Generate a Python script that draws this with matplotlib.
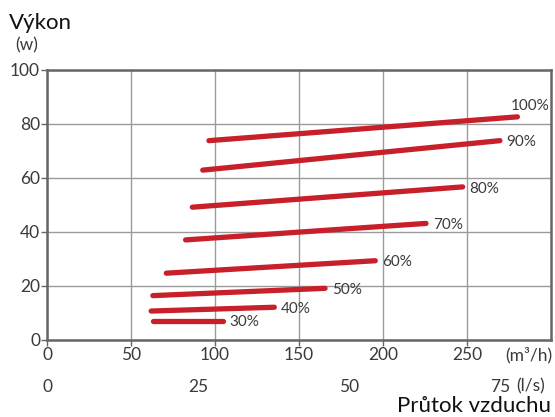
import matplotlib.pyplot as plt

plt.rcParams['font.family'] = ['Lato', 'DejaVu Sans']

# fan speed curves: airflow (m3/h) vs power (W), start and end points
speeds = ['30%', '40%', '50%', '60%', '70%', '80%', '90%', '100%']
flow_start = [63, 62, 63, 71, 82.5, 86.5, 92.7, 96.4]
flow_end = [104.6, 135.3, 165.5, 195.4, 225.6, 247.4, 269.6, 280]
power_start = [7.1, 10.7, 16.4, 24.7, 37, 49.1, 62.8, 73.7]
power_end = [7.1, 12.1, 19.1, 29.3, 43.1, 56.6, 73.7, 82.5]

x_ticks = [0, 50, 100, 150, 200, 250]
y_ticks = [0, 20, 40, 60, 80, 100]
ls_ticks = [0, 25, 50, 75]

RED = '#c8202a'
TXT = '#3a3a3a'
GRID = '#9a9a9a'
FRAME = '#666666'

fig = plt.figure(figsize=(5.55, 4.17), dpi=100)
ax = fig.add_axes([0.0847, 0.1847, 0.9081, 0.6486])
ax.set_xlim(0, 300)
ax.set_ylim(0, 100)

ax.set_xticks(x_ticks)
ax.set_yticks(y_ticks)
ax.grid(True, color=GRID, linewidth=1.0)
ax.set_axisbelow(True)
for s in ax.spines.values():
    s.set_color(FRAME)
    s.set_linewidth(1.8)
ax.tick_params(axis='both', colors=FRAME, labelcolor=TXT, labelsize=12.5,
               length=4, width=1)
ax.tick_params(axis='x', pad=1)
ax.tick_params(axis='y', pad=1)

for i, lab in enumerate(speeds):
    ax.plot([flow_start[i], flow_end[i]], [power_start[i], power_end[i]],
            color=RED, linewidth=3.8, solid_capstyle='round')
    if lab == '100%':
        ax.text(flow_end[i] - 4, power_end[i] + 4, lab, color=TXT,
                fontsize=11, va='center', ha='left')
    else:
        ax.text(flow_end[i] + 4, power_end[i] - 0.6, lab, color=TXT,
                fontsize=11, va='center', ha='left')

# second x scale in l/s
sec = ax.secondary_xaxis('bottom', functions=(lambda x: x / 3.6, lambda x: x * 3.6))
sec.set_xticks(ls_ticks)
sec.spines['bottom'].set_visible(False)
sec.tick_params(length=0, pad=28, labelsize=12.5, labelcolor=TXT)

ax.text(0.955, -0.055, '(m³/h)', transform=ax.transAxes, fontsize=12.5,
        color=TXT, ha='center', va='center')
ax.text(0.96, -0.17, '(l/s)', transform=ax.transAxes, fontsize=12.5,
        color=TXT, ha='center', va='center')
fig.text(0.993, 0.027, 'Průtok vzduchu', fontsize=16, color='#111111',
         ha='right', va='center')
fig.text(0.016, 0.945, 'Výkon', fontsize=16, color='#111111',
         ha='left', va='center')
fig.text(0.028, 0.892, '(w)', fontsize=12.5, color=TXT, ha='left', va='center')

fig.savefig('out.png', dpi=100)
